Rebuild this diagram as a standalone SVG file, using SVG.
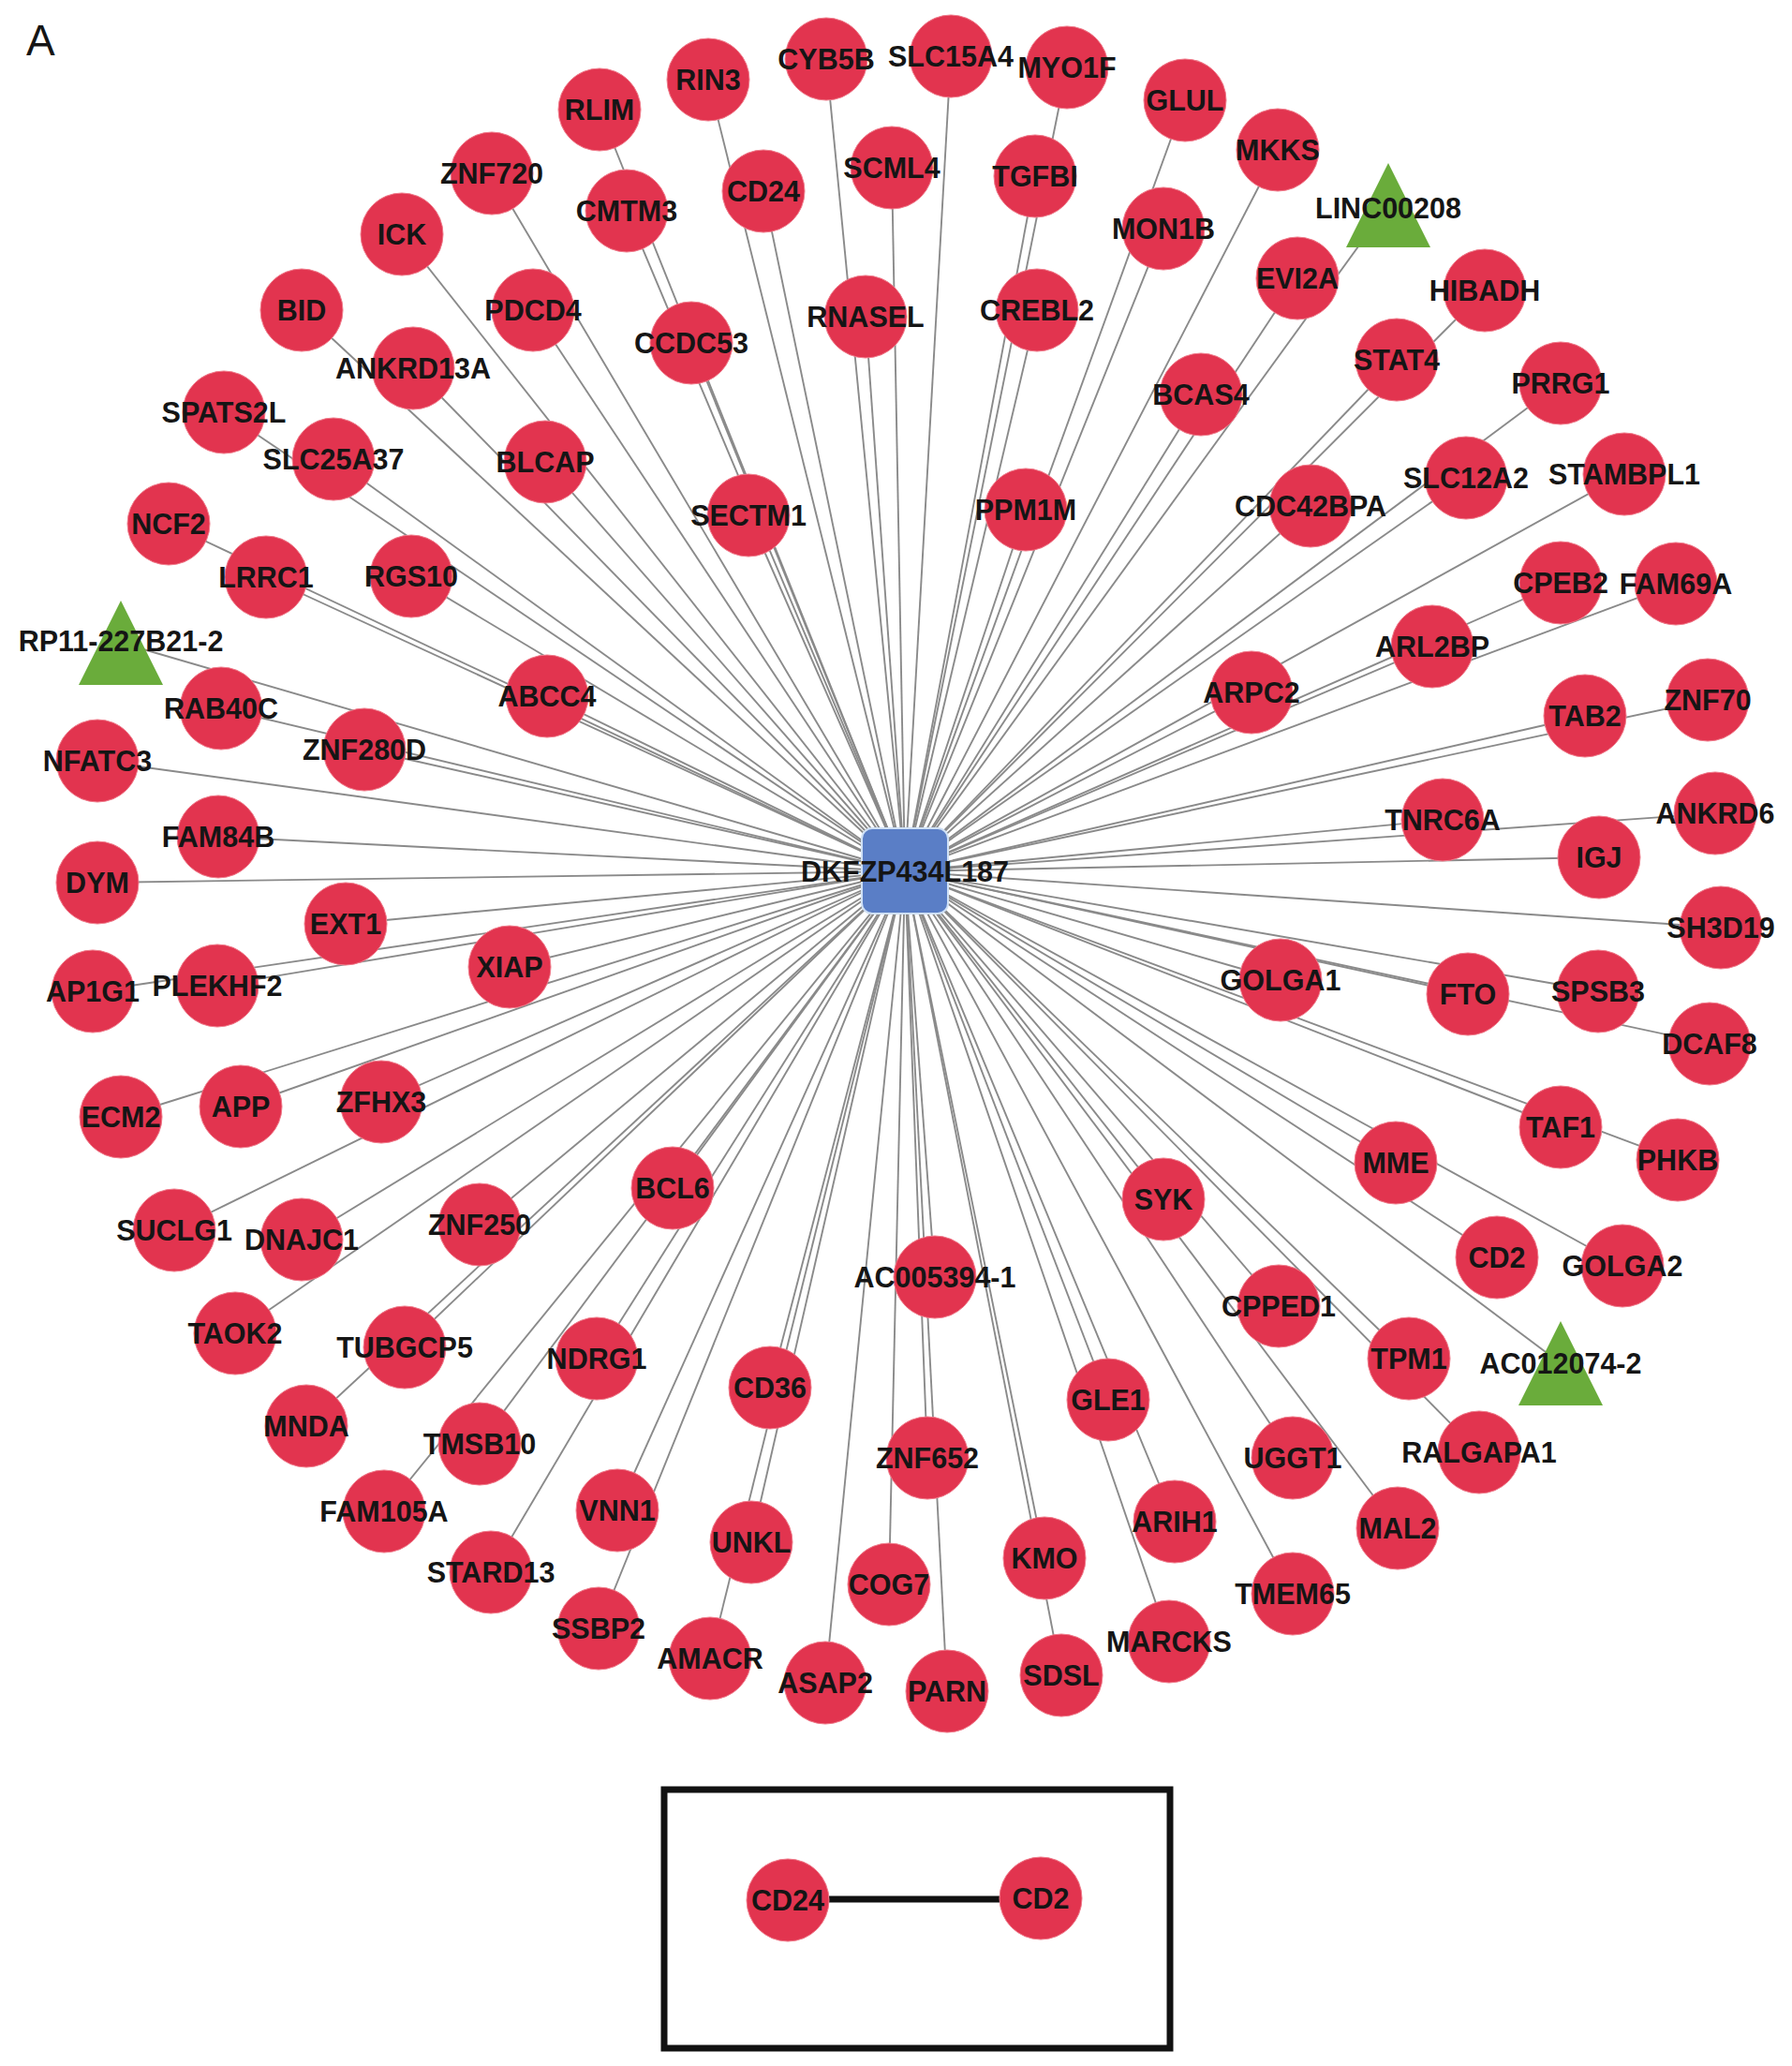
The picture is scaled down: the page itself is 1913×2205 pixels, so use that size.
<svg xmlns="http://www.w3.org/2000/svg" width="1913" height="2205" viewBox="0 0 1913 2205">
<style>
.e{stroke:#8a8a8a;stroke-width:1.9}
.c{fill:#e2344f;stroke:#f07a8a;stroke-width:1}
.tri{fill:#6aac3b}
.hub{fill:#5a7ec6;stroke:#cfe0f5;stroke-width:2}
text{font-family:"Liberation Sans",Arial,sans-serif;font-size:30.5px;font-weight:bold;fill:#151515;text-anchor:middle;dominant-baseline:central}
.panel{font-size:46px;font-weight:normal;dominant-baseline:auto;text-anchor:start}
</style>
<rect width="1913" height="2205" fill="#fff"/>
<text class="panel" x="28" y="59">A</text>
<g id="connectors">
<line class="e" x1="966" y1="930" x2="429" y2="250"/>
<line class="e" x1="966" y1="930" x2="322" y2="331"/>
<line class="e" x1="966" y1="930" x2="525" y2="185"/>
<line class="e" x1="966" y1="930" x2="569" y2="331"/>
<line class="e" x1="966" y1="930" x2="441" y2="393"/>
<line class="e" x1="966" y1="930" x2="239" y2="440"/>
<line class="e" x1="966" y1="930" x2="356" y2="490"/>
<line class="e" x1="966" y1="930" x2="582" y2="493"/>
<line class="e" x1="966" y1="930" x2="180" y2="559"/>
<line class="e" x1="966" y1="930" x2="640" y2="117"/>
<line class="e" x1="966" y1="930" x2="756" y2="85"/>
<line class="e" x1="966" y1="930" x2="882" y2="63"/>
<line class="e" x1="966" y1="930" x2="1015" y2="60"/>
<line class="e" x1="966" y1="930" x2="1139" y2="72"/>
<line class="e" x1="966" y1="930" x2="1265" y2="107"/>
<line class="e" x1="966" y1="930" x2="669" y2="225"/>
<line class="e" x1="966" y1="930" x2="815" y2="204"/>
<line class="e" x1="966" y1="930" x2="952" y2="179"/>
<line class="e" x1="966" y1="930" x2="1105" y2="188"/>
<line class="e" x1="966" y1="930" x2="1242" y2="244"/>
<line class="e" x1="966" y1="930" x2="924" y2="338"/>
<line class="e" x1="966" y1="930" x2="1107" y2="331"/>
<line class="e" x1="966" y1="930" x2="738" y2="366"/>
<line class="e" x1="966" y1="930" x2="799" y2="550"/>
<line class="e" x1="966" y1="930" x2="1095" y2="544"/>
<line class="e" x1="966" y1="930" x2="1364" y2="160"/>
<line class="e" x1="966" y1="930" x2="1482" y2="219"/>
<line class="e" x1="966" y1="930" x2="1385" y2="297"/>
<line class="e" x1="966" y1="930" x2="1585" y2="310"/>
<line class="e" x1="966" y1="930" x2="1491" y2="384"/>
<line class="e" x1="966" y1="930" x2="1666" y2="409"/>
<line class="e" x1="966" y1="930" x2="1282" y2="421"/>
<line class="e" x1="966" y1="930" x2="1565" y2="510"/>
<line class="e" x1="966" y1="930" x2="1734" y2="506"/>
<line class="e" x1="966" y1="930" x2="1399" y2="540"/>
<line class="e" x1="966" y1="930" x2="284" y2="616"/>
<line class="e" x1="966" y1="930" x2="439" y2="615"/>
<line class="e" x1="966" y1="930" x2="129" y2="686"/>
<line class="e" x1="966" y1="930" x2="584" y2="743"/>
<line class="e" x1="966" y1="930" x2="236" y2="756"/>
<line class="e" x1="966" y1="930" x2="389" y2="800"/>
<line class="e" x1="966" y1="930" x2="104" y2="812"/>
<line class="e" x1="966" y1="930" x2="233" y2="893"/>
<line class="e" x1="966" y1="930" x2="104" y2="942"/>
<line class="e" x1="966" y1="930" x2="369" y2="986"/>
<line class="e" x1="966" y1="930" x2="544" y2="1032"/>
<line class="e" x1="966" y1="930" x2="99" y2="1058"/>
<line class="e" x1="966" y1="930" x2="232" y2="1052"/>
<line class="e" x1="966" y1="930" x2="129" y2="1192"/>
<line class="e" x1="966" y1="930" x2="257" y2="1181"/>
<line class="e" x1="966" y1="930" x2="407" y2="1176"/>
<line class="e" x1="966" y1="930" x2="1666" y2="622"/>
<line class="e" x1="966" y1="930" x2="1789" y2="623"/>
<line class="e" x1="966" y1="930" x2="1529" y2="690"/>
<line class="e" x1="966" y1="930" x2="1336" y2="739"/>
<line class="e" x1="966" y1="930" x2="1692" y2="764"/>
<line class="e" x1="966" y1="930" x2="1823" y2="747"/>
<line class="e" x1="966" y1="930" x2="1540" y2="875"/>
<line class="e" x1="966" y1="930" x2="1831" y2="868"/>
<line class="e" x1="966" y1="930" x2="1707" y2="915"/>
<line class="e" x1="966" y1="930" x2="1837" y2="990"/>
<line class="e" x1="966" y1="930" x2="1367" y2="1046"/>
<line class="e" x1="966" y1="930" x2="1567" y2="1061"/>
<line class="e" x1="966" y1="930" x2="1706" y2="1058"/>
<line class="e" x1="966" y1="930" x2="1825" y2="1114"/>
<line class="e" x1="966" y1="930" x2="1666" y2="1203"/>
<line class="e" x1="966" y1="930" x2="1490" y2="1241"/>
<line class="e" x1="966" y1="930" x2="1791" y2="1238"/>
<line class="e" x1="966" y1="930" x2="1598" y2="1342"/>
<line class="e" x1="966" y1="930" x2="1732" y2="1351"/>
<line class="e" x1="966" y1="930" x2="1365" y2="1394"/>
<line class="e" x1="966" y1="930" x2="1504" y2="1450"/>
<line class="e" x1="966" y1="930" x2="1666" y2="1455"/>
<line class="e" x1="966" y1="930" x2="1579" y2="1550"/>
<line class="e" x1="966" y1="930" x2="1380" y2="1556"/>
<line class="e" x1="966" y1="930" x2="1492" y2="1631"/>
<line class="e" x1="966" y1="930" x2="1380" y2="1701"/>
<line class="e" x1="966" y1="930" x2="186" y2="1313"/>
<line class="e" x1="966" y1="930" x2="322" y2="1323"/>
<line class="e" x1="966" y1="930" x2="512" y2="1307"/>
<line class="e" x1="966" y1="930" x2="251" y2="1423"/>
<line class="e" x1="966" y1="930" x2="432" y2="1438"/>
<line class="e" x1="966" y1="930" x2="327" y2="1522"/>
<line class="e" x1="966" y1="930" x2="637" y2="1450"/>
<line class="e" x1="966" y1="930" x2="512" y2="1541"/>
<line class="e" x1="966" y1="930" x2="410" y2="1613"/>
<line class="e" x1="966" y1="930" x2="524" y2="1678"/>
<line class="e" x1="966" y1="930" x2="718" y2="1268"/>
<line class="e" x1="966" y1="930" x2="1242" y2="1280"/>
<line class="e" x1="966" y1="930" x2="998" y2="1363"/>
<line class="e" x1="966" y1="930" x2="822" y2="1481"/>
<line class="e" x1="966" y1="930" x2="1183" y2="1494"/>
<line class="e" x1="966" y1="930" x2="990" y2="1556"/>
<line class="e" x1="966" y1="930" x2="659" y2="1612"/>
<line class="e" x1="966" y1="930" x2="802" y2="1646"/>
<line class="e" x1="966" y1="930" x2="1254" y2="1624"/>
<line class="e" x1="966" y1="930" x2="1115" y2="1663"/>
<line class="e" x1="966" y1="930" x2="949" y2="1691"/>
<line class="e" x1="966" y1="930" x2="639" y2="1738"/>
<line class="e" x1="966" y1="930" x2="758" y2="1770"/>
<line class="e" x1="966" y1="930" x2="1248" y2="1752"/>
<line class="e" x1="966" y1="930" x2="881" y2="1796"/>
<line class="e" x1="966" y1="930" x2="1011" y2="1805"/>
<line class="e" x1="966" y1="930" x2="1133" y2="1788"/>
<line x1="885" y1="2027" x2="1067" y2="2027" stroke="#111" stroke-width="7"/>
</g>
<g id="hub-DKFZP434L187"><rect class="hub" x="920" y="884" width="92" height="91" rx="11"/><text x="966" y="930">DKFZP434L187</text></g>
<g id="n-LINC00208"><polygon class="tri" points="1482,174 1527,264 1437,264"/><text x="1482" y="222">LINC00208</text></g>
<g id="n-RP11-227B21-2"><polygon class="tri" points="129,641 174,731 84,731"/><text x="129" y="684">RP11-227B21-2</text></g>
<g id="n-AC012074-2"><polygon class="tri" points="1666,1410 1711,1500 1621,1500"/><text x="1666" y="1455">AC012074-2</text></g>
<g id="n-ICK"><circle class="c" cx="429" cy="250" r="44"/><text x="429" y="250">ICK</text></g>
<g id="n-BID"><circle class="c" cx="322" cy="331" r="44"/><text x="322" y="331">BID</text></g>
<g id="n-ZNF720"><circle class="c" cx="525" cy="185" r="44"/><text x="525" y="185">ZNF720</text></g>
<g id="n-PDCD4"><circle class="c" cx="569" cy="331" r="44"/><text x="569" y="331">PDCD4</text></g>
<g id="n-ANKRD13A"><circle class="c" cx="441" cy="393" r="44"/><text x="441" y="393">ANKRD13A</text></g>
<g id="n-SPATS2L"><circle class="c" cx="239" cy="440" r="44"/><text x="239" y="440">SPATS2L</text></g>
<g id="n-SLC25A37"><circle class="c" cx="356" cy="490" r="44"/><text x="356" y="490">SLC25A37</text></g>
<g id="n-BLCAP"><circle class="c" cx="582" cy="493" r="44"/><text x="582" y="493">BLCAP</text></g>
<g id="n-NCF2"><circle class="c" cx="180" cy="559" r="44"/><text x="180" y="559">NCF2</text></g>
<g id="n-RLIM"><circle class="c" cx="640" cy="117" r="44"/><text x="640" y="117">RLIM</text></g>
<g id="n-RIN3"><circle class="c" cx="756" cy="85" r="44"/><text x="756" y="85">RIN3</text></g>
<g id="n-CYB5B"><circle class="c" cx="882" cy="63" r="44"/><text x="882" y="63">CYB5B</text></g>
<g id="n-SLC15A4"><circle class="c" cx="1015" cy="60" r="44"/><text x="1015" y="60">SLC15A4</text></g>
<g id="n-MYO1F"><circle class="c" cx="1139" cy="72" r="44"/><text x="1139" y="72">MYO1F</text></g>
<g id="n-GLUL"><circle class="c" cx="1265" cy="107" r="44"/><text x="1265" y="107">GLUL</text></g>
<g id="n-CMTM3"><circle class="c" cx="669" cy="225" r="44"/><text x="669" y="225">CMTM3</text></g>
<g id="n-CD24"><circle class="c" cx="815" cy="204" r="44"/><text x="815" y="204">CD24</text></g>
<g id="n-SCML4"><circle class="c" cx="952" cy="179" r="44"/><text x="952" y="179">SCML4</text></g>
<g id="n-TGFBI"><circle class="c" cx="1105" cy="188" r="44"/><text x="1105" y="188">TGFBI</text></g>
<g id="n-MON1B"><circle class="c" cx="1242" cy="244" r="44"/><text x="1242" y="244">MON1B</text></g>
<g id="n-RNASEL"><circle class="c" cx="924" cy="338" r="44"/><text x="924" y="338">RNASEL</text></g>
<g id="n-CREBL2"><circle class="c" cx="1107" cy="331" r="44"/><text x="1107" y="331">CREBL2</text></g>
<g id="n-CCDC53"><circle class="c" cx="738" cy="366" r="44"/><text x="738" y="366">CCDC53</text></g>
<g id="n-SECTM1"><circle class="c" cx="799" cy="550" r="44"/><text x="799" y="550">SECTM1</text></g>
<g id="n-PPM1M"><circle class="c" cx="1095" cy="544" r="44"/><text x="1095" y="544">PPM1M</text></g>
<g id="n-MKKS"><circle class="c" cx="1364" cy="160" r="44"/><text x="1364" y="160">MKKS</text></g>
<g id="n-EVI2A"><circle class="c" cx="1385" cy="297" r="44"/><text x="1385" y="297">EVI2A</text></g>
<g id="n-HIBADH"><circle class="c" cx="1585" cy="310" r="44"/><text x="1585" y="310">HIBADH</text></g>
<g id="n-STAT4"><circle class="c" cx="1491" cy="384" r="44"/><text x="1491" y="384">STAT4</text></g>
<g id="n-PRRG1"><circle class="c" cx="1666" cy="409" r="44"/><text x="1666" y="409">PRRG1</text></g>
<g id="n-BCAS4"><circle class="c" cx="1282" cy="421" r="44"/><text x="1282" y="421">BCAS4</text></g>
<g id="n-SLC12A2"><circle class="c" cx="1565" cy="510" r="44"/><text x="1565" y="510">SLC12A2</text></g>
<g id="n-STAMBPL1"><circle class="c" cx="1734" cy="506" r="44"/><text x="1734" y="506">STAMBPL1</text></g>
<g id="n-CDC42BPA"><circle class="c" cx="1399" cy="540" r="44"/><text x="1399" y="540">CDC42BPA</text></g>
<g id="n-LRRC1"><circle class="c" cx="284" cy="616" r="44"/><text x="284" y="616">LRRC1</text></g>
<g id="n-RGS10"><circle class="c" cx="439" cy="615" r="44"/><text x="439" y="615">RGS10</text></g>
<g id="n-ABCC4"><circle class="c" cx="584" cy="743" r="44"/><text x="584" y="743">ABCC4</text></g>
<g id="n-RAB40C"><circle class="c" cx="236" cy="756" r="44"/><text x="236" y="756">RAB40C</text></g>
<g id="n-ZNF280D"><circle class="c" cx="389" cy="800" r="44"/><text x="389" y="800">ZNF280D</text></g>
<g id="n-NFATC3"><circle class="c" cx="104" cy="812" r="44"/><text x="104" y="812">NFATC3</text></g>
<g id="n-FAM84B"><circle class="c" cx="233" cy="893" r="44"/><text x="233" y="893">FAM84B</text></g>
<g id="n-DYM"><circle class="c" cx="104" cy="942" r="44"/><text x="104" y="942">DYM</text></g>
<g id="n-EXT1"><circle class="c" cx="369" cy="986" r="44"/><text x="369" y="986">EXT1</text></g>
<g id="n-XIAP"><circle class="c" cx="544" cy="1032" r="44"/><text x="544" y="1032">XIAP</text></g>
<g id="n-AP1G1"><circle class="c" cx="99" cy="1058" r="44"/><text x="99" y="1058">AP1G1</text></g>
<g id="n-PLEKHF2"><circle class="c" cx="232" cy="1052" r="44"/><text x="232" y="1052">PLEKHF2</text></g>
<g id="n-ECM2"><circle class="c" cx="129" cy="1192" r="44"/><text x="129" y="1192">ECM2</text></g>
<g id="n-APP"><circle class="c" cx="257" cy="1181" r="44"/><text x="257" y="1181">APP</text></g>
<g id="n-ZFHX3"><circle class="c" cx="407" cy="1176" r="44"/><text x="407" y="1176">ZFHX3</text></g>
<g id="n-CPEB2"><circle class="c" cx="1666" cy="622" r="44"/><text x="1666" y="622">CPEB2</text></g>
<g id="n-FAM69A"><circle class="c" cx="1789" cy="623" r="44"/><text x="1789" y="623">FAM69A</text></g>
<g id="n-ARL2BP"><circle class="c" cx="1529" cy="690" r="44"/><text x="1529" y="690">ARL2BP</text></g>
<g id="n-ARPC2"><circle class="c" cx="1336" cy="739" r="44"/><text x="1336" y="739">ARPC2</text></g>
<g id="n-TAB2"><circle class="c" cx="1692" cy="764" r="44"/><text x="1692" y="764">TAB2</text></g>
<g id="n-ZNF70"><circle class="c" cx="1823" cy="747" r="44"/><text x="1823" y="747">ZNF70</text></g>
<g id="n-TNRC6A"><circle class="c" cx="1540" cy="875" r="44"/><text x="1540" y="875">TNRC6A</text></g>
<g id="n-ANKRD6"><circle class="c" cx="1831" cy="868" r="44"/><text x="1831" y="868">ANKRD6</text></g>
<g id="n-IGJ"><circle class="c" cx="1707" cy="915" r="44"/><text x="1707" y="915">IGJ</text></g>
<g id="n-SH3D19"><circle class="c" cx="1837" cy="990" r="44"/><text x="1837" y="990">SH3D19</text></g>
<g id="n-GOLGA1"><circle class="c" cx="1367" cy="1046" r="44"/><text x="1367" y="1046">GOLGA1</text></g>
<g id="n-FTO"><circle class="c" cx="1567" cy="1061" r="44"/><text x="1567" y="1061">FTO</text></g>
<g id="n-SPSB3"><circle class="c" cx="1706" cy="1058" r="44"/><text x="1706" y="1058">SPSB3</text></g>
<g id="n-DCAF8"><circle class="c" cx="1825" cy="1114" r="44"/><text x="1825" y="1114">DCAF8</text></g>
<g id="n-TAF1"><circle class="c" cx="1666" cy="1203" r="44"/><text x="1666" y="1203">TAF1</text></g>
<g id="n-MME"><circle class="c" cx="1490" cy="1241" r="44"/><text x="1490" y="1241">MME</text></g>
<g id="n-PHKB"><circle class="c" cx="1791" cy="1238" r="44"/><text x="1791" y="1238">PHKB</text></g>
<g id="n-CD2"><circle class="c" cx="1598" cy="1342" r="44"/><text x="1598" y="1342">CD2</text></g>
<g id="n-GOLGA2"><circle class="c" cx="1732" cy="1351" r="44"/><text x="1732" y="1351">GOLGA2</text></g>
<g id="n-CPPED1"><circle class="c" cx="1365" cy="1394" r="44"/><text x="1365" y="1394">CPPED1</text></g>
<g id="n-TPM1"><circle class="c" cx="1504" cy="1450" r="44"/><text x="1504" y="1450">TPM1</text></g>
<g id="n-RALGAPA1"><circle class="c" cx="1579" cy="1550" r="44"/><text x="1579" y="1550">RALGAPA1</text></g>
<g id="n-UGGT1"><circle class="c" cx="1380" cy="1556" r="44"/><text x="1380" y="1556">UGGT1</text></g>
<g id="n-MAL2"><circle class="c" cx="1492" cy="1631" r="44"/><text x="1492" y="1631">MAL2</text></g>
<g id="n-TMEM65"><circle class="c" cx="1380" cy="1701" r="44"/><text x="1380" y="1701">TMEM65</text></g>
<g id="n-SUCLG1"><circle class="c" cx="186" cy="1313" r="44"/><text x="186" y="1313">SUCLG1</text></g>
<g id="n-DNAJC1"><circle class="c" cx="322" cy="1323" r="44"/><text x="322" y="1323">DNAJC1</text></g>
<g id="n-ZNF250"><circle class="c" cx="512" cy="1307" r="44"/><text x="512" y="1307">ZNF250</text></g>
<g id="n-TAOK2"><circle class="c" cx="251" cy="1423" r="44"/><text x="251" y="1423">TAOK2</text></g>
<g id="n-TUBGCP5"><circle class="c" cx="432" cy="1438" r="44"/><text x="432" y="1438">TUBGCP5</text></g>
<g id="n-MNDA"><circle class="c" cx="327" cy="1522" r="44"/><text x="327" y="1522">MNDA</text></g>
<g id="n-NDRG1"><circle class="c" cx="637" cy="1450" r="44"/><text x="637" y="1450">NDRG1</text></g>
<g id="n-TMSB10"><circle class="c" cx="512" cy="1541" r="44"/><text x="512" y="1541">TMSB10</text></g>
<g id="n-FAM105A"><circle class="c" cx="410" cy="1613" r="44"/><text x="410" y="1613">FAM105A</text></g>
<g id="n-STARD13"><circle class="c" cx="524" cy="1678" r="44"/><text x="524" y="1678">STARD13</text></g>
<g id="n-BCL6"><circle class="c" cx="718" cy="1268" r="44"/><text x="718" y="1268">BCL6</text></g>
<g id="n-SYK"><circle class="c" cx="1242" cy="1280" r="44"/><text x="1242" y="1280">SYK</text></g>
<g id="n-AC005394-1"><circle class="c" cx="998" cy="1363" r="44"/><text x="998" y="1363">AC005394-1</text></g>
<g id="n-CD36"><circle class="c" cx="822" cy="1481" r="44"/><text x="822" y="1481">CD36</text></g>
<g id="n-GLE1"><circle class="c" cx="1183" cy="1494" r="44"/><text x="1183" y="1494">GLE1</text></g>
<g id="n-ZNF652"><circle class="c" cx="990" cy="1556" r="44"/><text x="990" y="1556">ZNF652</text></g>
<g id="n-VNN1"><circle class="c" cx="659" cy="1612" r="44"/><text x="659" y="1612">VNN1</text></g>
<g id="n-UNKL"><circle class="c" cx="802" cy="1646" r="44"/><text x="802" y="1646">UNKL</text></g>
<g id="n-ARIH1"><circle class="c" cx="1254" cy="1624" r="44"/><text x="1254" y="1624">ARIH1</text></g>
<g id="n-KMO"><circle class="c" cx="1115" cy="1663" r="44"/><text x="1115" y="1663">KMO</text></g>
<g id="n-COG7"><circle class="c" cx="949" cy="1691" r="44"/><text x="949" y="1691">COG7</text></g>
<g id="n-SSBP2"><circle class="c" cx="639" cy="1738" r="44"/><text x="639" y="1738">SSBP2</text></g>
<g id="n-AMACR"><circle class="c" cx="758" cy="1770" r="44"/><text x="758" y="1770">AMACR</text></g>
<g id="n-MARCKS"><circle class="c" cx="1248" cy="1752" r="44"/><text x="1248" y="1752">MARCKS</text></g>
<g id="n-ASAP2"><circle class="c" cx="881" cy="1796" r="44"/><text x="881" y="1796">ASAP2</text></g>
<g id="n-PARN"><circle class="c" cx="1011" cy="1805" r="44"/><text x="1011" y="1805">PARN</text></g>
<g id="n-SDSL"><circle class="c" cx="1133" cy="1788" r="44"/><text x="1133" y="1788">SDSL</text></g>
<g id="inset">
<rect x="709" y="1910" width="540" height="276" fill="none" stroke="#111" stroke-width="7"/>
</g>
<g id="n-inset-CD24"><circle class="c" cx="841" cy="2028" r="44"/><text x="841" y="2028">CD24</text></g>
<g id="n-inset-CD2"><circle class="c" cx="1111" cy="2026" r="44"/><text x="1111" y="2026">CD2</text></g>
</svg>
